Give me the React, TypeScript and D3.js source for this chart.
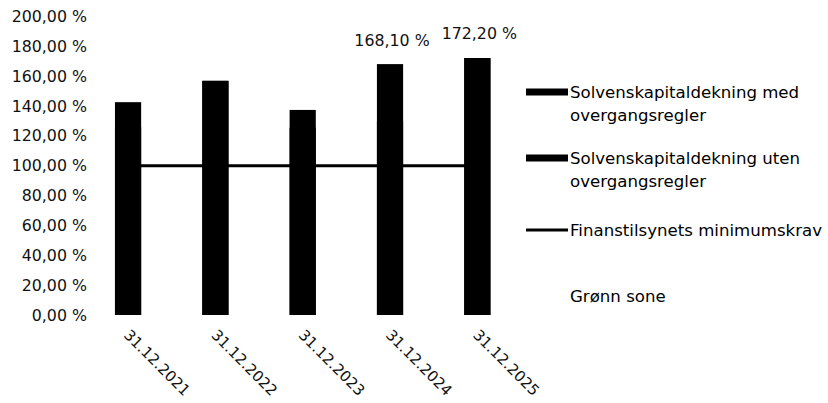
import * as d3 from "d3";

const categories = ["31.12.2021", "31.12.2022", "31.12.2023", "31.12.2024", "31.12.2025"];
const medOvergang = [142.6, 156.9, 137.4, 168.1, 172.2];
const utenOvergang = [126.0, 156.9, 125.5, 130.0, 172.2];
const minimumskrav = [100, 100, 100, 100, 100];
const shownLabels = [false, false, false, true, true];
const yTicks = [0, 20, 40, 60, 80, 100, 120, 140, 160, 180, 200];

const FONT = "DejaVu Sans, Verdana, sans-serif";
const W = 828;
const H = 403;

const fmt = (v: number) => `${v.toFixed(2).replace(".", ",")} %`;

export default function App() {
  const x = d3
    .scaleBand<string>()
    .domain(categories)
    .range([84.4, 521])
    .paddingInner(0.7)
    .paddingOuter(0.35);
  const y = d3.scaleLinear().domain([0, 200]).range([315, 16.5]);
  const bw = x.bandwidth();
  const cx = (c: string) => (x(c) ?? 0) + bw / 2;

  const line = d3
    .line<number>()
    .x((_, i) => cx(categories[i]))
    .y((d) => y(d));

  const legend = [
    { kind: "rect", lines: ["Solvenskapitaldekning med", "overgangsregler"], y: 92 },
    { kind: "rect", lines: ["Solvenskapitaldekning uten", "overgangsregler"], y: 158 },
    { kind: "line", lines: ["Finanstilsynets minimumskrav"], y: 230 },
    { kind: "none", lines: ["Grønn sone"], y: 296 },
  ];

  return (
    <svg
      width={W}
      height={H}
      style={{ position: "absolute", left: 0, top: 0, background: "#fff" }}
      fontFamily={FONT}
    >
      {/* y axis labels */}
      {yTicks.map((t) => (
        <text
          key={t}
          x={87}
          y={y(t)}
          textAnchor="end"
          dominantBaseline="central"
          fontSize={15.8}
          fill="#111"
        >
          {fmt(t)}
        </text>
      ))}

      {/* minimum requirement line */}
      <path d={line(minimumskrav) ?? ""} fill="none" stroke="#000" strokeWidth={3} />

      {/* bars: uten behind med */}
      {categories.map((c, i) => (
        <rect
          key={"u" + c}
          x={x(c)}
          y={y(utenOvergang[i])}
          width={bw}
          height={y(0) - y(utenOvergang[i])}
          fill="#000"
        />
      ))}
      {categories.map((c, i) => (
        <rect
          key={"m" + c}
          x={x(c)}
          y={y(medOvergang[i])}
          width={bw}
          height={y(0) - y(medOvergang[i])}
          fill="#000"
        />
      ))}

      {/* data labels */}
      {categories.map((c, i) =>
        shownLabels[i] ? (
          <text
            key={"l" + c}
            x={cx(c) + 2}
            y={y(medOvergang[i]) - 24}
            textAnchor="middle"
            dominantBaseline="central"
            fontSize={15.8}
            fill="#111"
          >
            {fmt(medOvergang[i])}
          </text>
        ) : null
      )}

      {/* x axis labels */}
      {categories.map((c) => (
        <text
          key={"x" + c}
          transform={`translate(${cx(c) - 5},336) rotate(45)`}
          fontSize={15}
          fill="#111"
        >
          {c}
        </text>
      ))}

      {/* legend */}
      {legend.map((l) => (
        <g key={l.lines[0]}>
          {l.kind === "rect" && <rect x={526} y={l.y - 3.5} width={42} height={7} fill="#000" />}
          {l.kind === "line" && (
            <line x1={526} x2={568} y1={l.y} y2={l.y} stroke="#000" strokeWidth={3} />
          )}
          {l.lines.map((t, j) => (
            <text
              key={t}
              x={570}
              y={l.y + j * 23}
              dominantBaseline="central"
              fontSize={16.6}
              fill="#000"
            >
              {t}
            </text>
          ))}
        </g>
      ))}
    </svg>
  );
}
